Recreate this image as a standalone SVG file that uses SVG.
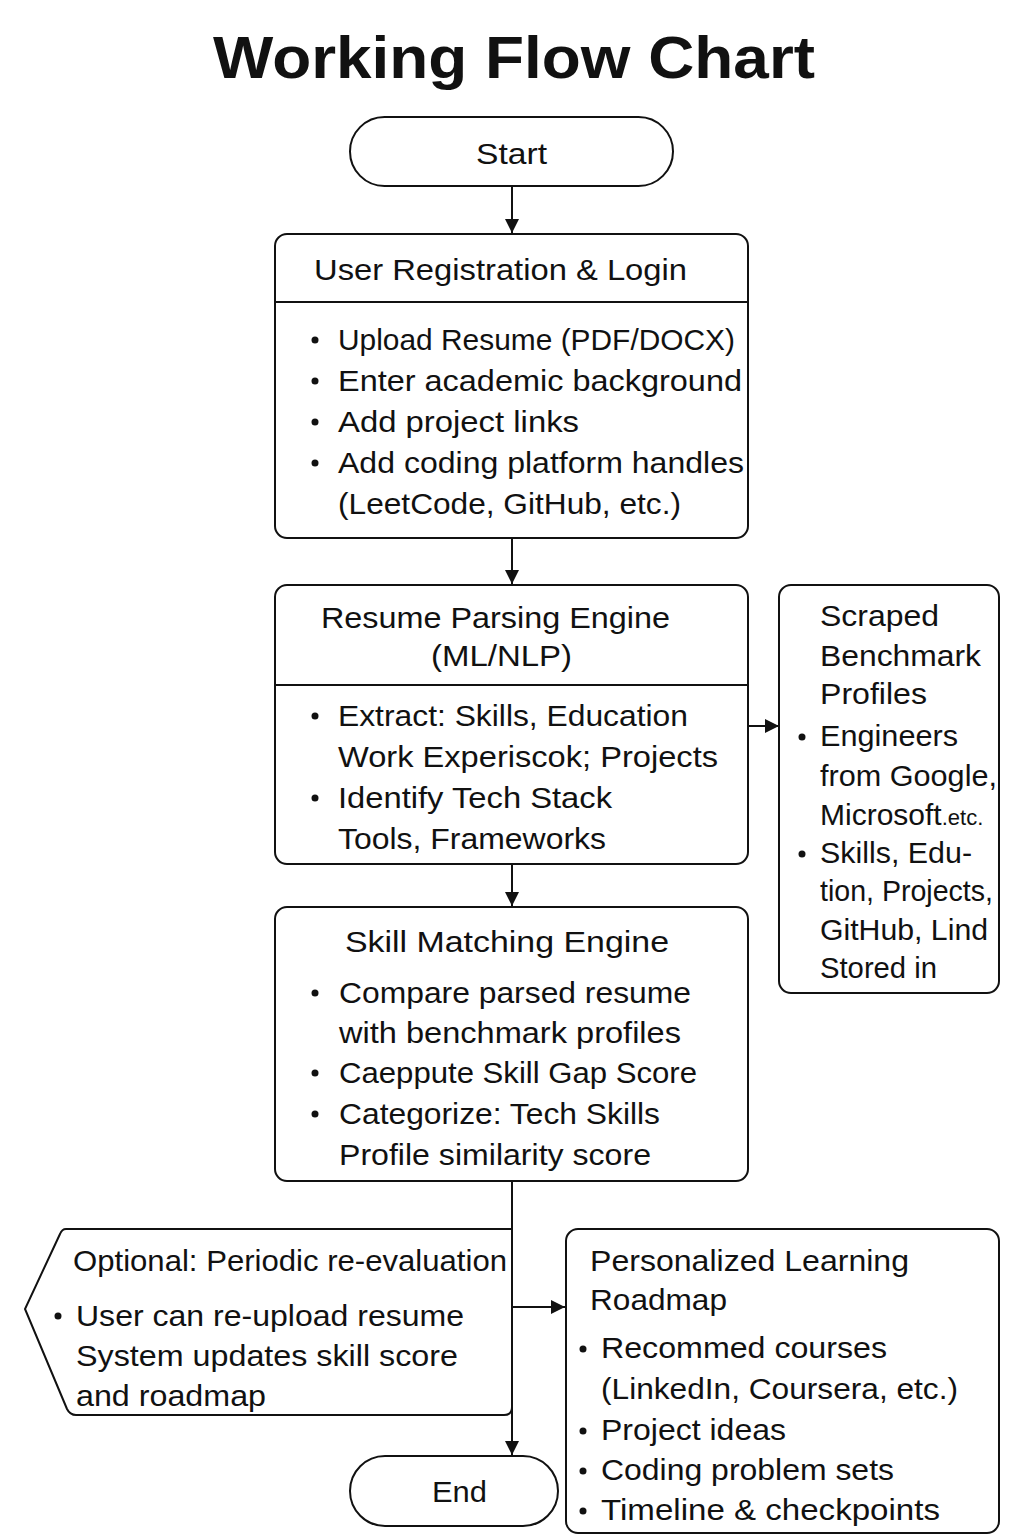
<svg xmlns="http://www.w3.org/2000/svg" width="1024" height="1536" viewBox="0 0 1024 1536">
<defs>
<style>
.box{fill:#fff;stroke:#111;stroke-width:2}
.t{font-family:"Liberation Sans",Arial,sans-serif;font-size:30px;fill:#111}
.title{font-family:"Liberation Sans",Arial,sans-serif;font-size:60px;font-weight:bold;fill:#111}
.ln{stroke:#111;stroke-width:2;fill:none}
.dot{fill:#111}
</style>
<marker id="ah" viewBox="0 0 10 10" refX="10" refY="5" markerWidth="14" markerHeight="14" markerUnits="userSpaceOnUse" orient="auto">
<path d="M0,0 L10,5 L0,10 z" fill="#111"/>
</marker>
</defs>
<rect width="1024" height="1536" fill="#fff"/>
<text class="title" x="514" y="78" text-anchor="middle" textLength="602" lengthAdjust="spacingAndGlyphs">Working Flow Chart</text>

<g id="connectors">
<line class="ln" x1="512" y1="186" x2="512" y2="233" marker-end="url(#ah)"/>
<line class="ln" x1="512" y1="538" x2="512" y2="584" marker-end="url(#ah)"/>
<line class="ln" x1="748" y1="726" x2="779" y2="726" marker-end="url(#ah)"/>
<line class="ln" x1="512" y1="864" x2="512" y2="906" marker-end="url(#ah)"/>
<line class="ln" x1="512" y1="1181" x2="512" y2="1455" marker-end="url(#ah)"/>
<line class="ln" x1="512" y1="1307" x2="565" y2="1307" marker-end="url(#ah)"/>
</g>

<g id="start">
<rect class="box" x="350" y="117" width="323" height="69" rx="34.5"/>
<text class="t" x="476" y="164" textLength="71" lengthAdjust="spacingAndGlyphs">Start</text>
</g>

<g id="registration">
<rect class="box" x="275" y="234" width="473" height="304" rx="12"/>
<line class="ln" x1="275" y1="302" x2="748" y2="302"/>
<text class="t" x="314" y="280" textLength="373" lengthAdjust="spacingAndGlyphs">User Registration &amp; Login</text>
<circle class="dot" cx="315" cy="340" r="3.5"/>
<text class="t" x="338" y="350" textLength="397" lengthAdjust="spacingAndGlyphs">Upload Resume (PDF/DOCX)</text>
<circle class="dot" cx="315" cy="381" r="3.5"/>
<text class="t" x="338" y="391" textLength="404" lengthAdjust="spacingAndGlyphs">Enter academic background</text>
<circle class="dot" cx="315" cy="422" r="3.5"/>
<text class="t" x="338" y="432" textLength="241" lengthAdjust="spacingAndGlyphs">Add project links</text>
<circle class="dot" cx="315" cy="463" r="3.5"/>
<text class="t" x="338" y="473" textLength="406" lengthAdjust="spacingAndGlyphs">Add coding platform handles</text>
<text class="t" x="338" y="514" textLength="343" lengthAdjust="spacingAndGlyphs">(LeetCode, GitHub, etc.)</text>
</g>

<g id="parsing">
<rect class="box" x="275" y="585" width="473" height="279" rx="12"/>
<line class="ln" x1="275" y1="685" x2="748" y2="685"/>
<text class="t" x="321" y="628" textLength="349" lengthAdjust="spacingAndGlyphs">Resume Parsing Engine</text>
<text class="t" x="431" y="666" textLength="141" lengthAdjust="spacingAndGlyphs">(ML/NLP)</text>
<circle class="dot" cx="315" cy="716" r="3.5"/>
<text class="t" x="338" y="726" textLength="350" lengthAdjust="spacingAndGlyphs">Extract: Skills, Education</text>
<text class="t" x="338" y="767" textLength="380" lengthAdjust="spacingAndGlyphs">Work Experiscok; Projects</text>
<circle class="dot" cx="315" cy="798" r="3.5"/>
<text class="t" x="338" y="808" textLength="274" lengthAdjust="spacingAndGlyphs">Identify Tech Stack</text>
<text class="t" x="338" y="849" textLength="268" lengthAdjust="spacingAndGlyphs">Tools, Frameworks</text>
</g>

<g id="benchmark">
<rect class="box" x="779" y="585" width="220" height="408" rx="12"/>
<text class="t" x="820" y="626" textLength="119" lengthAdjust="spacingAndGlyphs">Scraped</text>
<text class="t" x="820" y="666" textLength="161" lengthAdjust="spacingAndGlyphs">Benchmark</text>
<text class="t" x="820" y="704" textLength="107" lengthAdjust="spacingAndGlyphs">Profiles</text>
<circle class="dot" cx="802" cy="737" r="3.5"/>
<text class="t" x="820" y="746" textLength="138" lengthAdjust="spacingAndGlyphs">Engineers</text>
<text class="t" x="820" y="786" textLength="177" lengthAdjust="spacingAndGlyphs">from Google,</text>
<text class="t" x="820" y="825">Microsoft<tspan font-size="22">.etc.</tspan></text>
<circle class="dot" cx="802" cy="854" r="3.5"/>
<text class="t" x="820" y="863" textLength="152" lengthAdjust="spacingAndGlyphs">Skills, Edu-</text>
<text class="t" x="820" y="901" textLength="173" lengthAdjust="spacingAndGlyphs">tion, Projects,</text>
<text class="t" x="820" y="940" textLength="168" lengthAdjust="spacingAndGlyphs">GitHub, Lind</text>
<text class="t" x="820" y="978" textLength="117" lengthAdjust="spacingAndGlyphs">Stored in</text>
</g>

<g id="matching">
<rect class="box" x="275" y="907" width="473" height="274" rx="12"/>
<text class="t" x="345" y="952" textLength="324" lengthAdjust="spacingAndGlyphs">Skill Matching Engine</text>
<circle class="dot" cx="315" cy="993" r="3.5"/>
<text class="t" x="339" y="1003" textLength="352" lengthAdjust="spacingAndGlyphs">Compare parsed resume</text>
<text class="t" x="339" y="1043" textLength="342" lengthAdjust="spacingAndGlyphs">with benchmark profiles</text>
<circle class="dot" cx="315" cy="1073" r="3.5"/>
<text class="t" x="339" y="1083" textLength="358" lengthAdjust="spacingAndGlyphs">Caeppute Skill Gap Score</text>
<circle class="dot" cx="315" cy="1114" r="3.5"/>
<text class="t" x="339" y="1124" textLength="321" lengthAdjust="spacingAndGlyphs">Categorize: Tech Skills</text>
<text class="t" x="339" y="1165" textLength="312" lengthAdjust="spacingAndGlyphs">Profile similarity score</text>
</g>

<g id="optional">
<path class="box" d="M66,1229 L512,1229 L512,1407 Q512,1415 504,1415 L76,1415 Q70,1415 67,1409 L25,1309 L60,1234 Q62,1229 66,1229 Z"/>
<text class="t" x="73" y="1271" textLength="434" lengthAdjust="spacingAndGlyphs">Optional: Periodic re-evaluation</text>
<circle class="dot" cx="58" cy="1316" r="3.5"/>
<text class="t" x="76" y="1326" textLength="388" lengthAdjust="spacingAndGlyphs">User can re-upload resume</text>
<text class="t" x="76" y="1366" textLength="382" lengthAdjust="spacingAndGlyphs">System updates skill score</text>
<text class="t" x="76" y="1406" textLength="190" lengthAdjust="spacingAndGlyphs">and roadmap</text>
</g>

<g id="roadmap">
<rect class="box" x="566" y="1229" width="433" height="304" rx="12"/>
<text class="t" x="590" y="1271" textLength="319" lengthAdjust="spacingAndGlyphs">Personalized Learning</text>
<text class="t" x="590" y="1310" textLength="137" lengthAdjust="spacingAndGlyphs">Roadmap</text>
<circle class="dot" cx="583" cy="1349" r="3.5"/>
<text class="t" x="601" y="1358" textLength="286" lengthAdjust="spacingAndGlyphs">Recommed courses</text>
<text class="t" x="601" y="1399" textLength="357" lengthAdjust="spacingAndGlyphs">(LinkedIn, Coursera, etc.)</text>
<circle class="dot" cx="583" cy="1431" r="3.5"/>
<text class="t" x="601" y="1440" textLength="185" lengthAdjust="spacingAndGlyphs">Project ideas</text>
<circle class="dot" cx="583" cy="1471" r="3.5"/>
<text class="t" x="601" y="1480" textLength="293" lengthAdjust="spacingAndGlyphs">Coding problem sets</text>
<circle class="dot" cx="583" cy="1511" r="3.5"/>
<text class="t" x="601" y="1520" textLength="339" lengthAdjust="spacingAndGlyphs">Timeline &amp; checkpoints</text>
</g>

<g id="end">
<rect class="box" x="350" y="1456" width="208" height="70" rx="35"/>
<text class="t" x="432" y="1502" textLength="55" lengthAdjust="spacingAndGlyphs">End</text>
</g>
</svg>
